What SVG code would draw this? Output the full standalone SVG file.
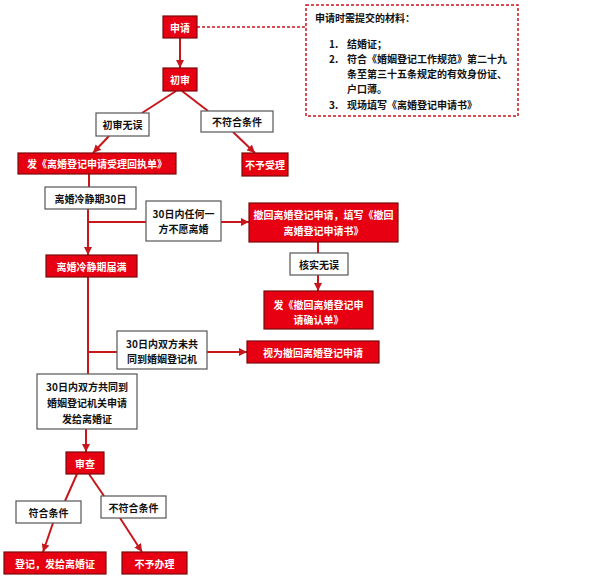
<svg xmlns="http://www.w3.org/2000/svg" width="600" height="581" viewBox="0 0 600 581">
<defs>
<marker id="ah" markerUnits="userSpaceOnUse" markerWidth="8" markerHeight="8" refX="8" refY="4" orient="auto">
<path d="M0,0 L8,4 L0,8 z" fill="#c8161d"/>
</marker>
</defs>
<style>
text{font-family:"Noto Sans CJK SC","Liberation Sans",sans-serif;font-size:10px;font-weight:bold;text-anchor:middle;dominant-baseline:central}
.r rect{fill:#e60012;stroke:#7a0a0a;stroke-width:1.2}
.r text{fill:#fff}
.w rect{fill:#fff;stroke:#555;stroke-width:1.2}
.w text{fill:#111}
#conn line{stroke:#c8161d;stroke-width:2;fill:none}
#conn line.a{marker-end:url(#ah)}
#conn line.d{stroke-width:1.5;stroke-dasharray:3 2}
#notes text{text-anchor:start;fill:#111}
</style>
<rect width="600" height="581" fill="#fff"/>
<g id="conn">
<line class="d" x1="197" y1="27" x2="306" y2="27"/>
<line class="a" x1="180" y1="38" x2="180" y2="68"/>
<line x1="176" y1="91" x2="142" y2="113"/>
<line class="a" x1="109" y1="136" x2="93" y2="153"/>
<line x1="182" y1="91" x2="208" y2="111"/>
<line class="a" x1="233" y1="132" x2="255" y2="153"/>
<line x1="89" y1="174" x2="89" y2="187"/>
<line class="a" x1="88" y1="209" x2="88" y2="255"/>
<line x1="88" y1="222" x2="146" y2="222"/>
<line class="a" x1="221" y1="222" x2="249" y2="222"/>
<line x1="318" y1="242" x2="318" y2="253"/>
<line class="a" x1="318" y1="275" x2="318" y2="291"/>
<line x1="88" y1="277" x2="88" y2="374"/>
<line x1="88" y1="352" x2="117" y2="352"/>
<line class="a" x1="207" y1="352" x2="247" y2="352"/>
<line class="a" x1="86" y1="429" x2="86" y2="452"/>
<line x1="77" y1="474" x2="65" y2="501"/>
<line class="a" x1="53" y1="523" x2="43" y2="552"/>
<line x1="89" y1="474" x2="104" y2="496"/>
<line class="a" x1="120" y1="518" x2="142" y2="552"/>
</g>
<g id="notes">
<rect x="306" y="5" width="212" height="111" fill="#fff" stroke="#c8161d" stroke-width="1.5" stroke-dasharray="3 2"/>
<text x="315" y="17">申请时需提交的材料：</text>
<text x="329" y="43">1.</text><text x="347" y="43">结婚证；</text>
<text x="329" y="58">2.</text><text x="347" y="58">符合《婚姻登记工作规范》第二十九</text>
<text x="347" y="73">条至第三十五条规定的有效身份证、</text>
<text x="347" y="88">户口薄。</text>
<text x="329" y="104">3.</text><text x="347" y="104">现场填写《离婚登记申请书》</text>
</g>
<g id="apply" class="r"><rect x="163" y="16" width="34" height="22"/><text x="180" y="27">申请</text></g>
<g id="prelim" class="r"><rect x="163" y="68" width="34" height="23"/><text x="180" y="79.5">初审</text></g>
<g id="prelim-ok" class="w"><rect x="96" y="113" width="53" height="23"/><text x="122.5" y="124.5">初审无误</text></g>
<g id="not-meet1" class="w"><rect x="201" y="111" width="72" height="21"/><text x="237" y="121.5">不符合条件</text></g>
<g id="reject1" class="r"><rect x="242" y="153" width="46" height="23"/><text x="265" y="164.5">不予受理</text></g>
<g id="receipt" class="r"><rect x="18" y="153" width="158" height="21"/><text x="97" y="163.5">发《离婚登记申请受理回执单》</text></g>
<g id="cooling" class="w"><rect x="45" y="187" width="91" height="22"/><text x="90.5" y="198">离婚冷静期30日</text></g>
<g id="unwilling" class="w"><rect x="146" y="201" width="75" height="40"/><text x="183.5" y="213">30日内任何一</text><text x="183.5" y="228">方不愿离婚</text></g>
<g id="withdraw" class="r"><rect x="249" y="203" width="149" height="39"/><text x="323.5" y="214">撤回离婚登记申请，填写《撤回</text><text x="323.5" y="230">离婚登记申请书》</text></g>
<g id="verified" class="w"><rect x="290" y="253" width="58" height="22"/><text x="319" y="264">核实无误</text></g>
<g id="confirm" class="r"><rect x="264" y="291" width="109" height="38"/><text x="318.5" y="304">发《撤回离婚登记申</text><text x="318.5" y="319">请确认单》</text></g>
<g id="expired" class="r"><rect x="46" y="255" width="91" height="22"/><text x="91.5" y="266">离婚冷静期届满</text></g>
<g id="not-together" class="w"><rect x="117" y="331" width="90" height="38"/><text x="162" y="343">30日内双方未共</text><text x="162" y="358">同到婚姻登记机</text></g>
<g id="deemed" class="r"><rect x="247" y="341" width="132" height="22"/><text x="313" y="352">视为撤回离婚登记申请</text></g>
<g id="together" class="w"><rect x="37" y="374" width="100" height="55"/><text x="87" y="386">30日内双方共同到</text><text x="87" y="402">婚姻登记机关申请</text><text x="87" y="418">发给离婚证</text></g>
<g id="review" class="r"><rect x="66" y="452" width="38" height="22"/><text x="85" y="463">审查</text></g>
<g id="meet" class="w"><rect x="16" y="501" width="65" height="22"/><text x="48.5" y="512">符合条件</text></g>
<g id="not-meet2" class="w"><rect x="101" y="496" width="65" height="22"/><text x="133.5" y="507">不符合条件</text></g>
<g id="register" class="r"><rect x="4" y="552" width="102" height="22"/><text x="55" y="563">登记，发给离婚证</text></g>
<g id="reject2" class="r"><rect x="122" y="552" width="65" height="22"/><text x="154.5" y="563">不予办理</text></g>
</svg>
